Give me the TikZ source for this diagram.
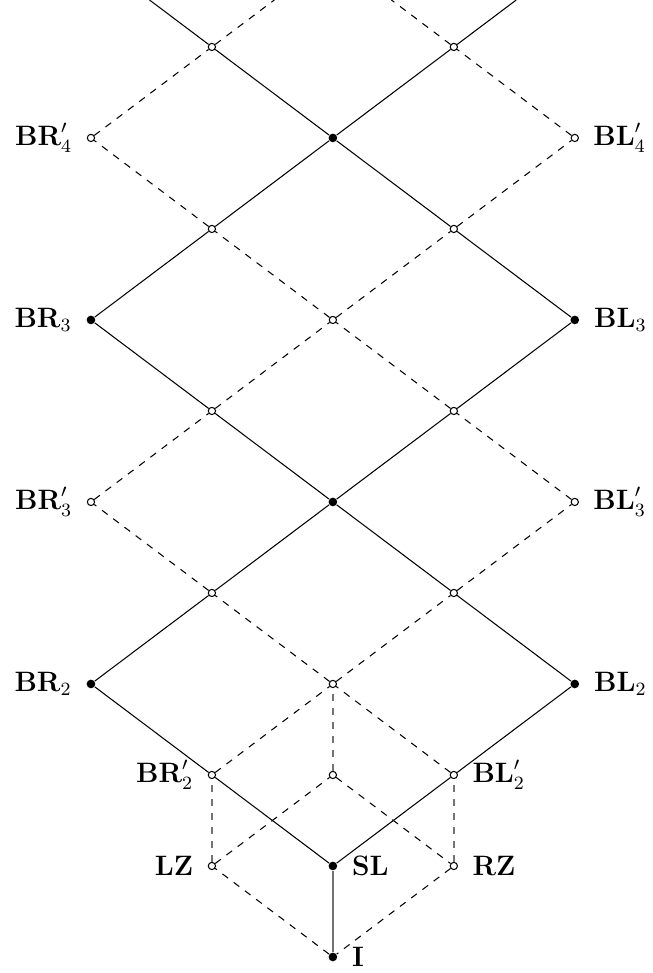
\documentclass[tikz,border=0pt]{standalone}
\begin{document}
\begin{tikzpicture}[x=1.817cm,y=1.367cm,
  open/.style={circle,draw,fill=white,inner sep=0pt,minimum size=3.1pt,line width=0.45pt},
  full/.style={circle,fill,inner sep=0pt,minimum size=3.7pt},
  every label/.style={label distance=3pt,inner sep=3pt,font=\large},
  sol/.style={line width=0.45pt},
  dsh/.style={line width=0.45pt,dashed},
  gsol/.style={line width=0.6pt,black!55},
  gdsh/.style={line width=0.6pt,dashed,black!55}]
\useasboundingbox (-2.752,-0.176) rectangle (2.645,10.516);
\node[full,label=right:$\mathbf{I}$] (I) at (0,0) {};
\node[open,label=left:$\mathbf{LZ}$] (LZ) at (-1,1) {};
\node[full,label=right:$\mathbf{SL}$] (SL) at (0,1) {};
\node[open,label=right:$\mathbf{RZ}$] (RZ) at (1,1) {};
\node[open,label=left:$\mathbf{BR}'_2$] (BRp2) at (-1,2) {};
\node[open] (c2) at (0,2) {};
\node[open,label=right:$\mathbf{BL}'_2$] (BLp2) at (1,2) {};
\node[full,label=left:$\mathbf{BR}_2$] (BR2) at (-2,3) {};
\node[open] (c3) at (0,3) {};
\node[full,label=right:$\mathbf{BL}_2$] (BL2) at (2,3) {};
\node[open] (l4) at (-1,4) {};
\node[open] (r4) at (1,4) {};
\node[open,label=left:$\mathbf{BR}'_3$] (BRp3) at (-2,5) {};
\node[full] (c5) at (0,5) {};
\node[open,label=right:$\mathbf{BL}'_3$] (BLp3) at (2,5) {};
\node[open] (l6) at (-1,6) {};
\node[open] (r6) at (1,6) {};
\node[full,label=left:$\mathbf{BR}_3$] (BR3) at (-2,7) {};
\node[open] (c7) at (0,7) {};
\node[full,label=right:$\mathbf{BL}_3$] (BL3) at (2,7) {};
\node[open] (l8) at (-1,8) {};
\node[open] (r8) at (1,8) {};
\node[open,label=left:$\mathbf{BR}'_4$] (BRp4) at (-2,9) {};
\node[full] (c9) at (0,9) {};
\node[open,label=right:$\mathbf{BL}'_4$] (BLp4) at (2,9) {};
\node[open] (l10) at (-1,10) {};
\node[open] (r10) at (1,10) {};
\coordinate (tl) at (-1.516,10.516);
\coordinate (tr) at (1.516,10.516);
\coordinate (dl) at (-0.484,10.516);
\coordinate (dr) at (0.484,10.516);
% solid
\draw[sol] (SL)--(BRp2)--(BR2);
\draw[sol] (SL)--(BLp2)--(BL2);
\draw[sol] (BR2)--(l4)--(c5)--(r6)--(BL3);
\draw[sol] (BL2)--(r4)--(c5)--(l6)--(BR3);
\draw[sol] (BR3)--(l8)--(c9)--(r10)--(tr);
\draw[sol] (BL3)--(r8)--(c9)--(l10)--(tl);
\draw[gsol] (SL)--(I);
% dashed
\draw[dsh] (I)--(LZ)--(c2)--(RZ)--(I);
\draw[dsh] (BRp2)--(c3)--(r4)--(BLp3);
\draw[dsh] (BLp2)--(c3)--(l4)--(BRp3);
\draw[dsh] (BRp3)--(l6)--(c7)--(r8)--(BLp4);
\draw[dsh] (BLp3)--(r6)--(c7)--(l8)--(BRp4);
\draw[dsh] (BRp4)--(l10)--(dl);
\draw[dsh] (BLp4)--(r10)--(dr);
\draw[gdsh] (LZ)--(BRp2);
\draw[gdsh] (RZ)--(BLp2);
\draw[gdsh] (c2)--(c3);
\end{tikzpicture}
\end{document}
